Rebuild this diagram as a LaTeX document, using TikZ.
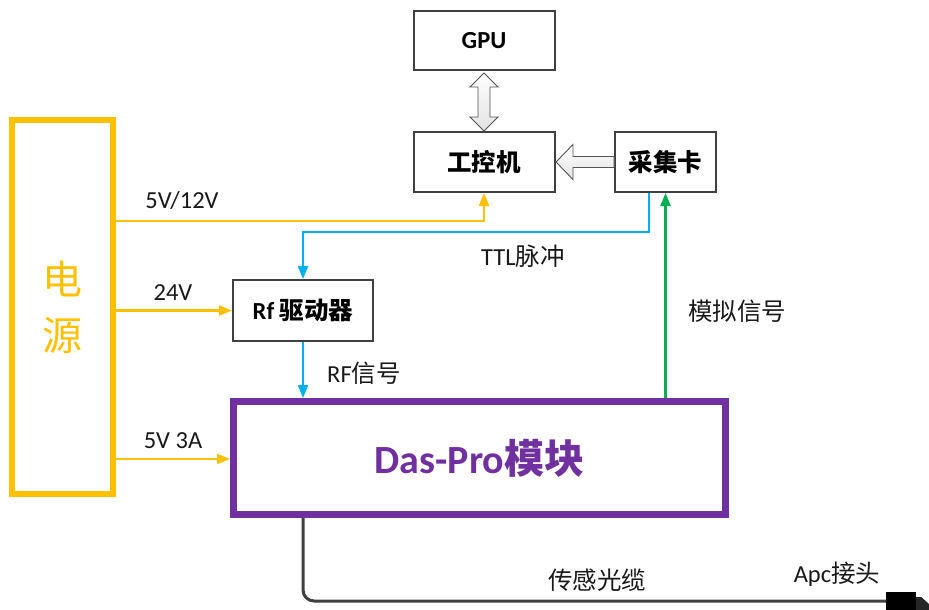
\documentclass[tikz,border=0pt]{standalone}
\usepackage{fontspec}
\setmainfont{Carlito}
\newfontfamily\cjk{Noto Sans CJK SC}
\usetikzlibrary{arrows.meta,calc}
\definecolor{pwrorange}{HTML}{FFC000}
\definecolor{sigblue}{HTML}{00B0F0}
\definecolor{siggreen}{HTML}{00B050}
\definecolor{modpurple}{HTML}{7030A0}
\definecolor{boxgray}{HTML}{404040}
\newcommand{\zh}[1]{{\cjk #1}}
\newcommand{\fs}[1]{\fontsize{#1}{#1}\selectfont}
\tikzset{
  blk/.style={draw=boxgray, line width=2pt, inner sep=0pt, font=\fs{24.5}\bfseries, text=black},
  lbl/.style={inner sep=0pt, font=\fs{24.5}, text=black!90},
  tip/.style={-{Triangle[length=13pt,width=10pt]}},
  pwr/.style={tip, draw=pwrorange, line width=2.2pt},
  sig/.style={tip, draw=sigblue, line width=2.2pt},
  ana/.style={tip, draw=siggreen, line width=2.2pt},
  fatarrow/.style={draw=gray!65!black, line width=0.9pt, top color=white, bottom color=gray!22},
}
\begin{document}
\begin{tikzpicture}[x=1pt, y=-1pt]
\useasboundingbox (0,0) rectangle (929,610);

% blocks
\node[blk, minimum width=141, minimum height=59] (gpu) at (484,41) {GPU};
\node[blk, minimum width=141, minimum height=60] (ipc) at (484,162) {\zh{工控机}};
\node[blk, minimum width=101, minimum height=60] (daq) at (665.5,162) {\zh{采集卡}};
\node[blk, minimum width=140, minimum height=61] (rf) at (303,310.5) {Rf \zh{驱动器}};
\node[draw=modpurple, line width=7pt, inner sep=0pt, minimum width=492, minimum height=113,
      text=modpurple, font=\fs{40}\bfseries] (das) at (479.5,458) {Das-Pro\zh{模块}};
\node[draw=pwrorange, line width=6pt, inner sep=0pt, minimum width=101, minimum height=374,
      text=pwrorange, font=\fs{40}, align=center] (psu) at (62.5,307)
      {\zh{电}\\[16pt]\zh{源}};

% fat arrows between GPU, IPC and acquisition card
\path[fatarrow] (484,73) -- (498,87) -- (490,87) -- (490,117) -- (498,117) -- (484,131)
  -- (470,117) -- (478,117) -- (478,87) -- (470,87) -- cycle;
\path[fatarrow] (556,162) -- (573,144.5) -- (573,156.5) -- (daq.west |- 0,156.5)
  -- (daq.west |- 0,167.5) -- (573,167.5) -- (573,179.5) -- cycle;

% power feeds
\draw[pwr] (psu.east |- 0,221) -| (ipc.south);
\draw[pwr] (psu.east |- rf.west) -- (rf.west);
\draw[pwr] (psu.east |- 0,459) -- (das.west |- 0,459);

% signals
\draw[sig] ([xshift=-16.5pt]daq.south) -- ++(0,39) -| (rf.north);
\draw[sig] (rf.south) -- (das.north -| rf.south);
\draw[ana] (das.north -| daq.south) -- (daq.south);

% fibre cable and connector
\node[fill=black, inner sep=0pt, minimum width=30, minimum height=18] (apc) at (901,601) {};
\fill[black!85] (apc.east |- 0,597) -- ++(5,0) -- (929,604) -- (929,610) -- (apc.east |- 0,610) -- cycle;
\draw[boxgray, line width=3pt, rounded corners=11pt] (das.south -| rf.south) |- (apc.west);

% labels
\node[lbl] (l5v) at (182,201) {5V/12V};
\node[lbl] (l24) at (173,293) {24V};
\node[lbl] (l3a) at (173,441) {5V 3A};
\node[lbl] (lttl) at (523,256) {TTL\zh{脉冲}};
\node[lbl] (lrf) at (364,373) {RF\zh{信号}};
\node[lbl] (lana) at (737,311) {\zh{模拟信号}};
\node[lbl] (lfib) at (597,580) {\zh{传感光缆}};
\node[lbl] (lapc) at (837,574) {Apc\zh{接头}};
\end{tikzpicture}
\end{document}
